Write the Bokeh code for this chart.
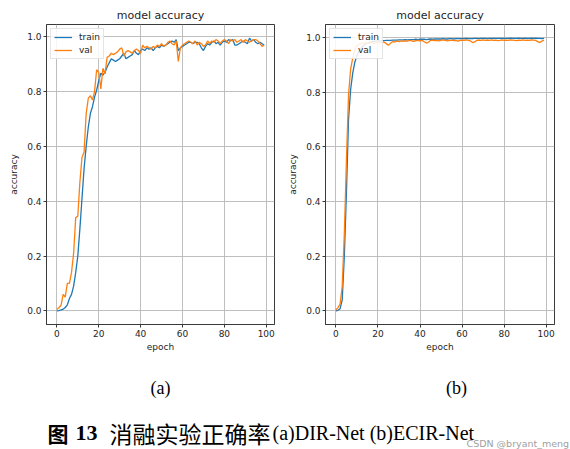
from bokeh.plotting import figure
from bokeh.models import Range1d, PrintfTickFormatter
from bokeh.layouts import column, row
from bokeh.embed import file_html
from bokeh.resources import INLINE
from bokeh.core.properties import value

# ---------------- data ----------------
epochs = list(range(100))

train_a = [0.0, 0.001, 0.003, 0.006, 0.012, 0.022, 0.045, 0.06, 0.09, 0.14,
           0.2, 0.3, 0.41, 0.52, 0.6, 0.67, 0.72, 0.745, 0.78, 0.805,
           0.84, 0.867, 0.86, 0.87, 0.89, 0.905, 0.92, 0.915, 0.91, 0.915,
           0.92, 0.93, 0.94, 0.92, 0.925, 0.93, 0.935, 0.95, 0.94, 0.935,
           0.95, 0.955, 0.95, 0.96, 0.955, 0.96, 0.95, 0.96, 0.965, 0.96,
           0.97, 0.965, 0.97, 0.975, 0.98, 0.985, 0.98, 0.99, 0.95, 0.96,
           0.965, 0.97, 0.975, 0.98, 0.98, 0.975, 0.98, 0.98, 0.975, 0.96,
           0.95, 0.965, 0.975, 0.97, 0.98, 0.985, 0.975, 0.98, 0.97, 0.98,
           0.985, 0.98, 0.99, 0.985, 0.99, 0.97, 0.97, 0.975, 0.98, 0.985,
           0.98, 0.975, 0.995, 0.985, 0.99, 0.98, 0.975, 0.98, 0.975, 0.97]

val_a = [0.005, 0.012, 0.02, 0.06, 0.05, 0.1, 0.1, 0.14, 0.21, 0.34,
         0.345, 0.47, 0.56, 0.58, 0.72, 0.775, 0.785, 0.77, 0.8, 0.88,
         0.87, 0.81, 0.885, 0.865, 0.925, 0.93, 0.94, 0.935, 0.94, 0.945,
         0.955, 0.96, 0.93, 0.945, 0.95, 0.945, 0.94, 0.95, 0.955, 0.95,
         0.94, 0.97, 0.96, 0.965, 0.96, 0.955, 0.965, 0.96, 0.97, 0.965,
         0.975, 0.965, 0.97, 0.98, 0.985, 0.975, 0.97, 0.985, 0.91, 0.96,
         0.97, 0.975, 0.98, 0.985, 0.98, 0.975, 0.985, 0.97, 0.98, 0.975,
         0.965, 0.97, 0.985, 0.975, 0.985, 0.98, 0.99, 0.985, 0.975, 0.985,
         0.99, 0.985, 0.975, 0.99, 0.985, 0.99, 0.98, 0.985, 0.99, 0.98,
         0.99, 0.985, 0.98, 0.985, 0.99, 0.99, 0.985, 0.975, 0.965, 0.97]

train_b = [0.0, 0.002, 0.008, 0.04, 0.2, 0.43, 0.7, 0.81, 0.87, 0.91,
           0.935, 0.95, 0.962, 0.97, 0.976, 0.98, 0.983, 0.985, 0.986, 0.987,
           0.988, 0.988, 0.989, 0.989, 0.99, 0.99, 0.99, 0.991, 0.991, 0.991,
           0.992, 0.992, 0.992, 0.993, 0.992, 0.993, 0.993, 0.993, 0.994, 0.993,
           0.994, 0.994, 0.994, 0.993, 0.994, 0.995, 0.994, 0.995, 0.995, 0.995,
           0.995, 0.996, 0.995, 0.995, 0.996, 0.996, 0.995, 0.996, 0.996, 0.996,
           0.996, 0.996, 0.997, 0.996, 0.996, 0.996, 0.997, 0.997, 0.996, 0.997,
           0.997, 0.997, 0.996, 0.997, 0.997, 0.997, 0.997, 0.997, 0.997, 0.997,
           0.997, 0.997, 0.997, 0.998, 0.997, 0.997, 0.997, 0.998, 0.997, 0.997,
           0.998, 0.997, 0.997, 0.998, 0.997, 0.998, 0.997, 0.997, 0.996, 0.997]

val_b = [0.003, 0.012, 0.025, 0.09, 0.28, 0.55, 0.79, 0.885, 0.925, 0.955,
         0.97, 0.975, 0.978, 0.98, 0.982, 0.978, 0.98, 0.983, 0.978, 0.982,
         0.984, 0.98, 0.985, 0.983, 0.978, 0.972, 0.98, 0.985, 0.984, 0.987,
         0.985, 0.988, 0.986, 0.988, 0.987, 0.99, 0.988, 0.986, 0.989, 0.99,
         0.988, 0.99, 0.985, 0.98, 0.983, 0.99, 0.991, 0.989, 0.99, 0.988,
         0.99, 0.992, 0.99, 0.988, 0.99, 0.991, 0.989, 0.99, 0.987, 0.99,
         0.991, 0.99, 0.992, 0.99, 0.988, 0.982, 0.984, 0.99, 0.991, 0.99,
         0.992, 0.99, 0.991, 0.99, 0.992, 0.99, 0.991, 0.989, 0.99, 0.992,
         0.99, 0.991, 0.99, 0.992, 0.991, 0.99, 0.989, 0.991, 0.99, 0.992,
         0.99, 0.991, 0.99, 0.992, 0.991, 0.99, 0.985, 0.982, 0.988, 0.99]

x_ticks = [0, 20, 40, 60, 80, 100]
y_ticks = [0.0, 0.2, 0.4, 0.6, 0.8, 1.0]
title_text = "model accuracy"
x_label = "epoch"
y_label = "accuracy"
series_names = ["train", "val"]
sub_labels = ["(a)", "(b)"]
caption_bold_cjk = "图"
caption_bold_num = "13"
caption_cjk = "消融实验正确率"
caption_en = "(a)DIR-Net (b)ECIR-Net"
watermark = "CSDN @bryant_meng"

BLUE = "#1f77b4"
ORANGE = "#ff7f0e"
TXT = "#262626"


def make_plot(train, val, b_left, b_right, b_top, b_bottom, ymax):
    p = figure(width=285, height=360, output_backend="svg", toolbar_location=None,
               x_range=Range1d(-4.95, 103.95), y_range=Range1d(-0.05, ymax),
               min_border_left=b_left, min_border_right=b_right,
               min_border_top=b_top, min_border_bottom=b_bottom,
               background_fill_color="white", border_fill_color="white")
    p.title.text = title_text
    p.title.align = "center"
    p.title.text_font = "DejaVu Sans"
    p.title.text_font_size = "11px"
    p.title.text_font_style = "normal"
    p.title.text_color = TXT
    p.title.standoff = 5

    p.outline_line_color = "#3a3a3a"
    p.outline_line_width = 1

    p.line(epochs, train, line_color=BLUE, line_width=1.3, legend_label=series_names[0])
    p.line(epochs, val, line_color=ORANGE, line_width=1.3, legend_label=series_names[1])

    p.xaxis.ticker = x_ticks
    p.yaxis.ticker = y_ticks
    p.yaxis.formatter = PrintfTickFormatter(format="%.1f")
    for ax in (p.xaxis[0], p.yaxis[0]):
        ax.axis_line_color = "#3a3a3a"
        ax.major_tick_line_color = "#3a3a3a"
        ax.major_tick_out = 3
        ax.major_tick_in = 0
        ax.minor_tick_line_color = None
        ax.major_label_text_font = "DejaVu Sans"
        ax.major_label_text_font_size = "9px"
        ax.major_label_text_color = TXT
        ax.axis_label_text_font = "DejaVu Sans"
        ax.axis_label_text_font_size = "9px"
        ax.axis_label_text_font_style = "normal"
        ax.axis_label_text_color = TXT
    p.xaxis.axis_label = x_label
    p.yaxis.axis_label = y_label
    p.xaxis.major_label_standoff = 2
    p.xaxis.axis_label_standoff = 2
    p.yaxis.major_label_standoff = 2
    p.yaxis.axis_label_standoff = 5

    p.grid.grid_line_color = "#b8b8b8"
    p.grid.grid_line_width = 0.9

    lg = p.legend[0]
    lg.location = "top_left"
    lg.margin = 4
    lg.padding = 3
    lg.spacing = 3
    lg.glyph_width = 18
    lg.glyph_height = 10
    lg.label_height = 10
    lg.label_standoff = 7
    lg.label_text_font = "DejaVu Sans"
    lg.label_text_font_size = "9px"
    lg.label_text_color = TXT
    lg.border_line_color = "#cccccc"
    lg.background_fill_alpha = 0.85
    return p


pa = make_plot(train_a, val_a, 46, 11, 23, 36, 1.045)
pb = make_plot(train_b, val_b, 38, 16, 24, 33, 1.048)

# caption area (page y 360..449)
cap = figure(width=570, height=89, output_backend="svg", toolbar_location=None,
             x_range=Range1d(0, 570), y_range=Range1d(0, 89),
             min_border=0, min_border_left=0, min_border_right=0,
             min_border_top=0, min_border_bottom=0,
             background_fill_color="white", border_fill_color="white")
cap.axis.visible = False
cap.grid.visible = False
cap.outline_line_color = None

cap.text(x=[160, 456], y=[62, 62], text=sub_labels,
         text_font=value("Liberation Serif"), text_font_size="18px",
         text_align="center", text_baseline="middle", text_color="black")
cap.text(x=[47], y=[17], text=[caption_bold_cjk],
         text_font=value("Noto Sans CJK SC"), text_font_size="21px", text_font_style="bold",
         text_align="left", text_baseline="middle", text_color="black")
cap.text(x=[75], y=[17], text=[caption_bold_num],
         text_font=value("Liberation Serif"), text_font_size="22px", text_font_style="bold",
         text_align="left", text_baseline="middle", text_color="black")
cap.text(x=[109], y=[17], text=[caption_cjk],
         text_font=value("Noto Sans CJK SC"), text_font_size="23px",
         text_align="left", text_baseline="middle", text_color="black")
cap.text(x=[272], y=[17], text=[caption_en],
         text_font=value("Liberation Serif"), text_font_size="20px",
         text_align="left", text_baseline="middle", text_color="black")
cap.text(x=[466], y=[6], text=[watermark],
         text_font=value("DejaVu Sans"), text_font_size="9.5px",
         text_align="left", text_baseline="middle", text_color="#a0a0a0")

layout = column(row(pa, pb), cap)
open("out.html", "w").write(file_html(layout, INLINE))
